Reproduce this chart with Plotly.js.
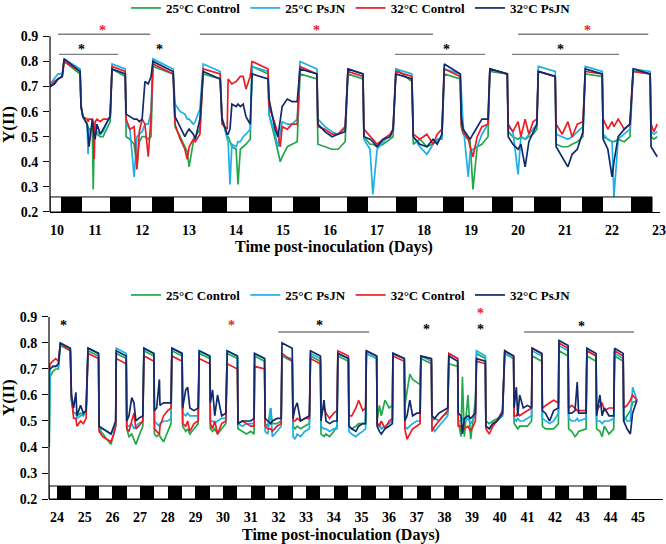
<!DOCTYPE html>
<html><head><meta charset="utf-8">
<script src="https://cdn.plot.ly/plotly-3.0.1.min.js"></script>
<style>html,body{margin:0;padding:0;background:#fff}#chart{width:666px;height:544px}</style>
</head><body><div id="chart"></div>
<script>
// ---------- series ----------
const seriesNames = ['25°C Control', '25°C PsJN', '32°C Control', '32°C PsJN'];
const seriesColors = ['#22a84a', '#1cb0e6', '#ee1c24', '#102a6b'];

// ---------- top panel: days 10-23 ----------
const tTop = [10.04,10.13,10.21,10.30,10.34,10.68,10.70,10.74,10.83,10.85,10.87,10.94,10.96,10.98,11.00,11.04,11.11,11.17,11.28,11.32,
11.36,11.64,11.66,11.74,11.83,11.89,11.94,12.00,12.06,12.13,12.19,
12.23,12.66,12.70,12.81,12.91,12.96,13.00,13.09,13.13,13.23,
13.30,13.66,13.70,13.81,13.83,13.87,13.91,14.00,14.04,14.09,14.15,14.21,14.30,
14.34,14.68,14.70,14.83,14.89,14.94,14.98,15.09,15.19,15.30,
15.36,15.72,15.74,15.89,16.04,16.17,16.32,
16.38,16.70,16.72,16.85,16.91,17.00,17.13,17.28,17.34,
17.40,17.74,17.77,17.91,18.06,18.19,18.28,18.38,
18.43,18.77,18.79,18.83,18.94,18.98,19.04,19.13,19.23,19.36,
19.40,19.77,19.79,19.89,20.00,20.06,20.15,20.23,20.32,20.40,
20.43,20.79,20.81,20.94,21.06,21.15,21.26,21.38,
21.43,21.79,21.81,21.91,22.00,22.04,22.13,22.26,22.38,
22.45,22.81,22.83,22.89,22.96];
const ctrl25Top = [.70,.71,.73,.74,.80,.75,.62,.58,.55,.54,.53,.53,.29,.50,.52,.51,.50,.50,.54,.56,
.77,.74,.50,.49,.47,.38,.48,.50,.50,.49,.50,
.78,.75,.54,.50,.46,.44,.38,.48,.50,.53,
.75,.73,.57,.50,.50,.48,.46,.45,.31,.45,.46,.47,.49,
.78,.75,.59,.49,.44,.40,.42,.46,.47,.48,
.75,.73,.47,.46,.45,.45,.48,
.75,.73,.50,.47,.47,.46,.47,.49,.50,
.77,.72,.47,.49,.46,.47,.48,.50,
.75,.73,.54,.51,.49,.48,.29,.46,.47,.50,
.76,.75,.52,.50,.49,.50,.49,.50,.51,.53,
.76,.74,.47,.46,.46,.47,.48,.50,
.75,.74,.50,.49,.48,.48,.49,.48,.50,
.76,.75,.50,.49,.50];
const psjn25Top = [.71,.73,.75,.75,.81,.77,.63,.58,.55,.43,.53,.52,.52,.52,.52,.52,.51,.52,.57,.58,
.79,.77,.55,.53,.34,.50,.51,.52,.55,.55,.60,
.81,.77,.63,.60,.59,.57,.57,.55,.56,.61,
.79,.76,.58,.49,.48,.31,.47,.46,.48,.48,.50,.51,.53,
.78,.76,.59,.51,.46,.52,.56,.55,.55,.57,
.80,.77,.57,.54,.52,.51,.53,
.77,.75,.49,.45,.27,.45,.48,.51,.53,
.77,.75,.50,.46,.43,.47,.49,.49,
.77,.75,.66,.55,.34,.44,.45,.46,.51,.55,
.77,.75,.54,.52,.35,.50,.49,.51,.53,.55,
.78,.76,.51,.50,.49,.50,.52,.54,
.78,.76,.51,.49,.48,.26,.49,.51,.53,
.77,.76,.52,.51,.52];
const ctrl32Top = [.70,.72,.73,.74,.80,.76,.62,.58,.57,.56,.57,.57,.55,.41,.56,.57,.56,.57,.57,.58,
.78,.76,.57,.53,.54,.37,.52,.57,.55,.42,.58,
.79,.75,.55,.49,.45,.41,.46,.49,.48,.51,
.77,.75,.55,.53,.73,.72,.71,.72,.73,.74,.74,.69,.74,
.80,.77,.62,.55,.51,.46,.54,.53,.55,.55,
.78,.75,.54,.53,.51,.51,.54,
.76,.74,.53,.50,.49,.47,.49,.51,.53,
.76,.74,.51,.49,.51,.47,.51,.53,
.77,.74,.55,.52,.49,.46,.42,.50,.54,.55,
.77,.75,.55,.52,.56,.50,.57,.51,.56,.57,
.76,.74,.55,.51,.56,.50,.55,.56,
.76,.75,.57,.53,.56,.54,.57,.53,.55,
.76,.75,.55,.52,.55];
const psjn32Top = [.70,.71,.73,.74,.81,.76,.62,.58,.55,.50,.46,.57,.52,.50,.49,.55,.51,.53,.57,.58,
.77,.75,.59,.58,.57,.57,.56,.57,.72,.71,.74,
.80,.76,.58,.54,.50,.52,.53,.51,.49,.57,
.76,.73,.57,.51,.51,.53,.63,.62,.63,.62,.63,.58,.55,
.75,.73,.65,.53,.50,.58,.62,.65,.64,.64,
.77,.75,.55,.52,.50,.51,.52,
.77,.75,.50,.49,.48,.46,.49,.50,.53,
.75,.73,.50,.47,.46,.49,.47,.51,
.79,.75,.58,.53,.50,.49,.51,.54,.57,.57,
.77,.75,.50,.47,.45,.47,.38,.48,.52,.55,
.76,.74,.46,.42,.38,.43,.45,.52,
.77,.75,.49,.45,.34,.40,.50,.53,.55,
.77,.75,.46,.44,.42];
const darkStartTop = [10.28,11.32,12.21,13.28,14.28,15.21,16.36,17.40,18.40,19.45,20.34,21.36,22.40];
const darkEndTop   = [10.72,11.77,12.68,13.81,14.77,15.79,16.81,17.85,18.85,19.89,20.91,21.81,22.85];
const tickDaysTop = [10,11,12,13,14,15,16,17,18,19,20,21,22,23];
// significance marks: [from day, to day, level]
const sigLinesTop = [[10.21,12.17,0.908],[10.23,11.49,0.828],[13.23,18.19,0.908],[17.38,19.30,0.828],[20.00,22.77,0.908],[19.87,22.15,0.828]];
// asterisks: [day, level, colour group]
const starsTop = [[11.15,0.940,'r'],[10.72,0.864,'k'],[12.38,0.864,'k'],[15.70,0.940,'r'],[18.47,0.862,'k'],[21.47,0.940,'r'],[20.91,0.862,'k']];

// ---------- bottom panel: days 24-45 ----------
const tBot = [23.72,23.75,23.85,23.95,24.05,24.12,24.48,24.52,24.6,24.68,24.72,24.85,24.95,25.05,
25.12,25.5,25.52,25.65,25.8,25.95,26.05,26.12,
26.14,26.5,26.52,26.6,26.7,26.78,26.85,26.95,27.1,
27.14,27.5,27.52,27.6,27.7,27.72,27.85,28.0,28.12,
28.15,28.52,28.54,28.65,28.72,28.8,28.95,29.1,
29.14,29.52,29.54,29.62,29.7,29.8,29.95,30.1,
30.15,30.52,30.54,30.7,30.85,31.0,31.12,
31.14,31.5,31.52,31.62,31.72,31.78,31.95,32.1,
32.13,32.5,32.53,32.6,32.68,32.8,32.95,33.12,
33.16,33.52,33.54,33.65,33.72,33.85,34.0,34.12,
34.15,34.53,34.55,34.65,34.8,34.9,35.05,35.15,
35.18,35.55,35.57,35.65,35.72,35.85,36.0,36.12,
36.14,36.55,36.57,36.65,36.75,36.85,37.0,37.12,
37.15,37.53,37.55,37.65,37.8,37.95,38.12,
38.16,38.48,38.5,38.6,38.65,38.72,38.85,38.95,39.12,
39.16,39.48,39.5,39.62,39.75,39.9,40.1,
40.18,40.5,40.52,40.6,40.65,40.72,40.85,41.0,41.15,
41.17,41.52,41.54,41.65,41.8,41.95,42.12,
42.14,42.47,42.49,42.6,42.72,42.8,42.85,43.12,
43.15,43.48,43.5,43.62,43.7,43.78,43.95,44.12,
44.15,44.46,44.48,44.6,44.72,44.8,44.96];
const ctrl25Bot = [.40,.67,.69,.70,.70,.79,.77,.58,.53,.53,.52,.53,.52,.54,
.77,.75,.47,.45,.43,.41,.45,.48,
.76,.74,.47,.44,.45,.43,.41,.44,.48,
.77,.75,.45,.44,.45,.44,.42,.46,.49,
.77,.75,.48,.46,.47,.45,.47,.49,
.76,.74,.47,.46,.47,.45,.47,.49,
.76,.74,.47,.46,.45,.46,.45,
.75,.73,.49,.48,.55,.49,.49,.50,
.75,.73,.48,.47,.48,.47,.48,.49,
.75,.73,.45,.44,.45,.44,.46,.48,
.75,.73,.48,.47,.48,.49,.49,.49,
.76,.74,.50,.56,.52,.58,.55,.56,
.76,.74,.56,.61,.68,.66,.65,.64,
.74,.72,.50,.51,.50,.52,.53,
.72,.71,.50,.44,.67,.44,.60,.43,.58,
.76,.74,.50,.49,.50,.51,.52,
.76,.74,.49,.48,.47,.48,.48,.48,.50,
.75,.73,.48,.47,.47,.47,.49,
.77,.75,.47,.46,.44,.45,.46,.47,
.75,.73,.47,.46,.44,.48,.45,.47,
.75,.73,.50,.52,.54,.57,.58];
const psjn25Bot = [.46,.70,.71,.71,.71,.80,.78,.58,.53,.53,.51,.52,.53,.54,
.78,.76,.47,.47,.46,.45,.47,.49,
.78,.76,.48,.48,.49,.47,.48,.49,.50,
.78,.76,.50,.49,.48,.49,.50,.50,.51,
.78,.76,.53,.52,.53,.52,.52,.52,
.77,.75,.50,.50,.49,.50,.51,.51,
.77,.75,.49,.48,.49,.49,.49,
.76,.74,.46,.45,.55,.44,.46,.48,
.75,.74,.44,.43,.45,.44,.46,.47,
.76,.74,.48,.47,.47,.46,.47,.47,
.76,.74,.46,.45,.44,.45,.46,.47,
.76,.74,.48,.49,.47,.48,.49,.50,
.76,.74,.48,.47,.48,.49,.50,.50,
.75,.73,.48,.46,.48,.50,.52,
.76,.74,.50,.50,.51,.50,.51,.49,.52,
.77,.75,.48,.47,.49,.50,.52,
.76,.74,.51,.50,.51,.50,.50,.51,.52,
.77,.75,.51,.50,.49,.50,.53,
.79,.77,.51,.50,.50,.51,.50,.51,
.77,.75,.50,.50,.49,.50,.50,.51,
.76,.74,.52,.50,.50,.63,.58];
const ctrl32Bot = [.70,.72,.73,.74,.73,.80,.77,.59,.51,.51,.48,.50,.49,.51,
.76,.74,.46,.44,.43,.42,.45,.48,
.74,.72,.47,.46,.50,.53,.47,.48,.50,
.75,.73,.47,.46,.45,.48,.52,.54,.55,
.75,.73,.49,.48,.50,.46,.49,.50,
.74,.72,.49,.47,.50,.45,.49,.50,
.72,.70,.49,.50,.49,.48,.48,
.71,.70,.48,.47,.47,.46,.48,.49,
.76,.73,.50,.50,.51,.50,.51,.51,
.74,.72,.54,.55,.53,.51,.53,.54,
.77,.75,.52,.52,.55,.58,.54,.55,
.77,.75,.49,.48,.50,.47,.50,.51,
.75,.73,.47,.43,.45,.47,.48,.49,
.75,.74,.46,.48,.50,.52,.54,
.76,.74,.48,.48,.46,.47,.48,.46,.50,
.73,.72,.47,.45,.48,.50,.54,
.77,.75,.52,.52,.53,.52,.53,.54,.55,
.78,.76,.55,.56,.57,.58,.57,
.80,.78,.55,.56,.55,.54,.54,.54,
.77,.75,.54,.56,.57,.54,.55,.55,
.77,.75,.55,.56,.58,.60,.58];
const psjn32Bot = [.70,.70,.71,.71,.72,.80,.78,.60,.55,.61,.52,.56,.53,.54,
.78,.76,.48,.47,.46,.45,.48,.50,
.77,.75,.50,.52,.59,.57,.50,.51,.52,
.78,.76,.54,.55,.66,.56,.57,.57,.57,
.78,.76,.55,.62,.63,.55,.54,.55,
.77,.75,.57,.62,.52,.60,.52,.53,
.77,.75,.49,.50,.50,.50,.51,
.76,.74,.51,.50,.49,.50,.51,.51,
.80,.78,.51,.55,.57,.50,.51,.52,
.77,.75,.50,.58,.50,.49,.50,.50,
.76,.74,.48,.47,.46,.48,.49,.49,
.77,.75,.48,.46,.45,.47,.48,.49,
.76,.74,.50,.52,.58,.52,.53,.53,
.75,.74,.52,.51,.53,.54,.55,
.75,.73,.53,.52,.45,.51,.52,.51,.53,
.74,.73,.48,.47,.49,.50,.53,
.77,.75,.55,.63,.52,.60,.55,.56,.55,
.78,.76,.54,.53,.50,.54,.55,
.81,.79,.53,.53,.54,.65,.53,.53,
.78,.76,.52,.60,.52,.55,.52,.52,
.78,.76,.50,.47,.45,.53,.58];
const darkStartBot = [24,25,26,27,28,29,30,31,32,33,34,35,36,37,38,39,40,41,42,43,44];
const darkEndBot   = [24.52,25.52,26.52,27.52,28.52,29.52,30.52,31.52,32.52,33.52,34.52,35.52,36.52,37.52,38.52,39.52,40.52,41.52,42.52,43.53,44.56];
const tickDaysBot = [24,25,26,27,28,29,30,31,32,33,34,35,36,37,38,39,40,41,42,43,44,45];
const sigLinesBot = [[31.99,35.28,0.842],[40.88,44.85,0.842]];
const starsBot = [[24.25,0.881,'k'],[30.32,0.881,'r'],[33.47,0.881,'k'],[37.34,0.869,'k'],[39.32,0.927,'r'],[39.32,0.869,'k'],[42.94,0.880,'k']];

// ---------- build ----------
const FONT = 'Liberation Serif, Times New Roman, serif';
const xRangeTop = [10.04, 23.02];
const xRangeBot = [23.71, 45.90];
const yRange = [0.2, 0.95];
const stripTop = 0.06, stripBot = 0.05;

function lineTraces(t, ys, xa, ya, legendId) {
  return ys.map((y, i) => ({
    type: 'scatter', mode: 'lines', x: t, y: y, name: seriesNames[i],
    xaxis: xa, yaxis: ya, legend: legendId,
    line: {color: seriesColors[i], width: 1.7}, hoverinfo: 'skip'
  }));
}
function darkBars(starts, ends, h, xa, ya) {
  return {
    type: 'bar', x: starts.map((s, i) => (s + ends[i]) / 2),
    width: starts.map((s, i) => ends[i] - s),
    y: starts.map(() => h), base: 0.2, xaxis: xa, yaxis: ya,
    marker: {color: '#000', line: {width: 0}}, showlegend: false, hoverinfo: 'skip'
  };
}

const traces = [
  darkBars(darkStartTop, darkEndTop, stripTop, 'x', 'y'),
  darkBars(darkStartBot, darkEndBot, stripBot, 'x2', 'y2'),
  ...lineTraces(tTop, [ctrl25Top, psjn25Top, ctrl32Top, psjn32Top], 'x', 'y', 'legend'),
  ...lineTraces(tBot, [ctrl25Bot, psjn25Bot, ctrl32Bot, psjn32Bot], 'x2', 'y2', 'legend2')
];

const shapes = [
  {type: 'rect', xref: 'x', yref: 'y', x0: xRangeTop[0], x1: darkEndTop[darkEndTop.length - 1], y0: 0.2, y1: 0.2 + stripTop, line: {color: '#000', width: 1}},
  {type: 'rect', xref: 'x2', yref: 'y2', x0: xRangeBot[0], x1: darkEndBot[darkEndBot.length - 1], y0: 0.2, y1: 0.2 + stripBot, line: {color: '#000', width: 1}},
  {type: 'line', xref: 'x domain', yref: 'y', x0: 0, x1: 0, y0: 0.2, y1: 0.9, line: {color: '#000', width: 1.2}},
  {type: 'line', xref: 'x2 domain', yref: 'y2', x0: 0, x1: 0, y0: 0.2, y1: 0.9, line: {color: '#000', width: 1.2}}
];
sigLinesTop.forEach(s => shapes.push({type: 'line', xref: 'x', yref: 'y', x0: s[0], x1: s[1], y0: s[2], y1: s[2], line: {color: '#7f7f7f', width: 1.4}}));
sigLinesBot.forEach(s => shapes.push({type: 'line', xref: 'x2', yref: 'y2', x0: s[0], x1: s[1], y0: s[2], y1: s[2], line: {color: '#7f7f7f', width: 1.4}}));

const starColor = {r: '#ee1c24', k: '#000'};
const annotations = [];
starsTop.forEach(s => annotations.push({xref: 'x', yref: 'y', x: s[0], y: s[1], text: '*', showarrow: false, xanchor: 'center', yanchor: 'middle', yshift: -4, font: {family: FONT, size: 14, weight: 700, color: starColor[s[2]]}}));
starsBot.forEach(s => annotations.push({xref: 'x2', yref: 'y2', x: s[0], y: s[1], text: '*', showarrow: false, xanchor: 'center', yanchor: 'middle', yshift: -4, font: {family: FONT, size: 14, weight: 700, color: starColor[s[2]]}}));
const titleFont = {family: FONT, size: 16, weight: 700, color: '#000'};
const yTitleFont = {family: FONT, size: 17, weight: 700, color: '#000'};
annotations.push({xref: 'paper', yref: 'paper', x: 0.5015, y: 0.546, xanchor: 'center', yanchor: 'middle', text: 'Time post-inoculation (Days)', showarrow: false, font: titleFont});
annotations.push({xref: 'paper', yref: 'paper', x: 0.512, y: 0.0165, xanchor: 'center', yanchor: 'middle', text: 'Time post-inoculation (Days)', showarrow: false, font: titleFont});
annotations.push({xref: 'paper', yref: 'paper', x: 0.012, y: 0.772, xanchor: 'center', yanchor: 'middle', text: 'Y(II)', textangle: -90, showarrow: false, font: yTitleFont});
annotations.push({xref: 'paper', yref: 'paper', x: 0.012, y: 0.270, xanchor: 'center', yanchor: 'middle', text: 'Y(II)', textangle: -90, showarrow: false, font: yTitleFont});

const tickFont = {family: FONT, size: 14, weight: 700, color: '#000'};
function xAxis(domain, range, ticks, anchor, firstOffset) {
  return {
    domain: domain, range: range, anchor: anchor,
    tickvals: ticks.map((d, i) => i === 0 ? d + firstOffset : d), ticktext: ticks.map(String),
    ticks: '', showline: true, linecolor: '#000', linewidth: 1.2,
    showgrid: false, zeroline: false, tickfont: tickFont, ticklabelstandoff: 5,
    ticklabeloverflow: 'allow'
  };
}
function yAxis(domain, anchor) {
  return {
    domain: domain, range: yRange, anchor: anchor,
    tick0: 0.2, dtick: 0.1, tickformat: '.1f',
    ticks: 'outside', ticklen: 6, tickcolor: '#000', tickwidth: 1,
    showline: false, showgrid: false, zeroline: false, tickfont: tickFont, ticklabelstandoff: 2
  };
}
const legendFont = {family: FONT, size: 13, weight: 700, color: '#000'};
const layout = {
  width: 666, height: 544,
  margin: {l: 0, r: 0, t: 0, b: 0, autoexpand: false},
  paper_bgcolor: '#fff', plot_bgcolor: '#fff',
  showlegend: true,
  xaxis: xAxis([0.0751, 0.991], xRangeTop, tickDaysTop, 'y', 0.19),
  yaxis: yAxis([0.6103, 0.9563], 'x'),
  xaxis2: xAxis([0.0736, 0.9955], xRangeBot, tickDaysBot, 'y2', 0),
  yaxis2: yAxis([0.0827, 0.4412], 'x2'),
  legend: {orientation: 'h', x: 0.527, xanchor: 'center', y: 0.9853, yanchor: 'middle', font: legendFont, bgcolor: 'rgba(0,0,0,0)'},
  legend2: {orientation: 'h', x: 0.527, xanchor: 'center', y: 0.4577, yanchor: 'middle', font: legendFont, bgcolor: 'rgba(0,0,0,0)'},
  shapes: shapes, annotations: annotations,
  bargap: 0
};
Plotly.newPlot('chart', traces, layout, {staticPlot: true, displayModeBar: false});
</script></body></html>
